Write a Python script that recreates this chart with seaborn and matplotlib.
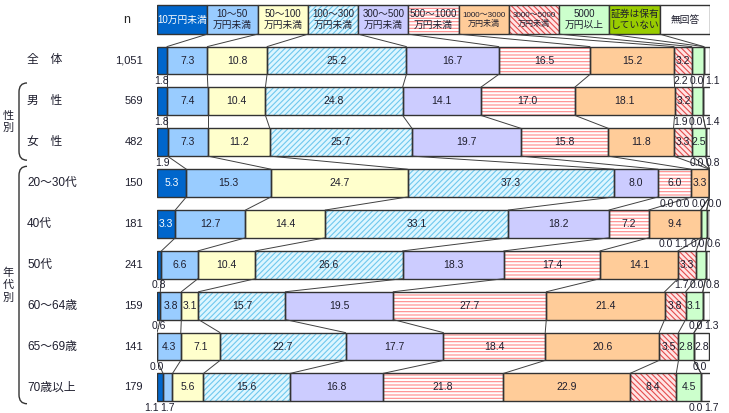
import pandas as pd
import seaborn as sns
import matplotlib.pyplot as plt
from matplotlib import transforms
from matplotlib.path import Path
from matplotlib.patches import PathPatch

# ---- data -------------------------------------------------------------
ROWS = ['全　体', '男　性', '女　性', '20～30代', '40代', '50代',
        '60～64歳', '65～69歳', '70歳以上']
N_VALUES = ['1,051', '569', '482', '150', '181', '241', '159', '141', '179']

CATEGORIES = ['10万円未満', '10～50\n万円未満', '50～100\n万円未満',
              '100～300\n万円未満', '300～500\n万円未満', '500～1000\n万円未満',
              '1000～3000\n万円未満', '3000～5000\n万円未満', '5000\n万円以上',
              '証券は保有\nしていない', '無回答']

ZENTAI = [1.8, 7.3, 10.8, 25.2, 16.7, 16.5, 15.2, 3.2, 2.2, 0.0, 1.1]
MALE = [1.8, 7.4, 10.4, 24.8, 14.1, 17.0, 18.1, 3.2, 1.9, 0.0, 1.4]
FEMALE = [1.9, 7.3, 11.2, 25.7, 19.7, 15.8, 11.8, 3.3, 2.5, 0.0, 0.8]
AGE_20_30 = [5.3, 15.3, 24.7, 37.3, 8.0, 6.0, 3.3, 0.0, 0.0, 0.0, 0.0]
AGE_40 = [3.3, 12.7, 14.4, 33.1, 18.2, 7.2, 9.4, 0.0, 1.1, 0.0, 0.6]
AGE_50 = [0.8, 6.6, 10.4, 26.6, 18.3, 17.4, 14.1, 3.3, 1.7, 0.0, 0.8]
AGE_60_64 = [0.6, 3.8, 3.1, 15.7, 19.5, 27.7, 21.4, 3.8, 3.1, 0.0, 1.3]
AGE_65_69 = [0.0, 4.3, 7.1, 22.7, 17.7, 18.4, 20.6, 3.5, 2.8, 0.0, 2.8]
AGE_70 = [1.1, 1.7, 5.6, 15.6, 16.8, 21.8, 22.9, 8.4, 4.5, 0.0, 1.7]

VALUES = [ZENTAI, MALE, FEMALE, AGE_20_30, AGE_40, AGE_50,
          AGE_60_64, AGE_65_69, AGE_70]

# ---- style ------------------------------------------------------------
FACE = ['#0066CC', '#99CCFF', '#FFFFCC', '#DDF6FF', '#CCCCFF', '#FFFFFF',
        '#FFCC99', '#FFE4E4', '#CCFFCC', '#99CC00', '#FFFFFF']
HATCH = [None, None, None, '//////', None, '-----', None, '\\\\\\\\\\\\',
         None, None, None]
HATCH_COLOR = [None, None, None, '#6FC8EE', None, '#FF8A8A', None, '#E44C4C',
               None, None, None]
EDGE = '#333333'
TEXT = '#1E1E2E'
BAR_H = 0.68
LEG_H = 0.71
SMALL = 2.5

W, H = 729, 413
Y0_PX, ROW_PX = 60.5, 40.86
X0_PX, X1_PX = 157, 710

sns.set_theme(style='white')
plt.rcParams['font.family'] = ['Liberation Sans', 'Noto Sans CJK JP', 'DejaVu Sans']
plt.rcParams['hatch.linewidth'] = 0.8

fig = plt.figure(figsize=(W / 100, H / 100), dpi=100)
ax = fig.add_axes([X0_PX / W, 0, (X1_PX - X0_PX) / W, 1])

df = pd.DataFrame(VALUES, columns=CATEGORIES)
df['row'] = ROWS
cum = df[CATEGORIES].cumsum(axis=1)
start = cum - df[CATEGORIES]

# stacked bars: draw cumulative totals from the last category to the first
for k in reversed(range(len(CATEGORIES))):
    part = pd.DataFrame({'row': ROWS, 'cum': cum.iloc[:, k].values})
    sns.barplot(data=part, x='cum', y='row', orient='h', order=ROWS,
                color=FACE[k], saturation=1, width=BAR_H, errorbar=None,
                hatch=HATCH[k], edgecolor=HATCH_COLOR[k] or FACE[k],
                linewidth=0, ax=ax)

ypos = list(range(len(ROWS)))
for k in range(len(CATEGORIES)):
    ax.barh(ypos, df[CATEGORIES[k]], left=start.iloc[:, k], height=BAR_H,
            fill=False, edgecolor=EDGE, linewidth=1.0)

# legend row above the bars
leg_w = 100 / len(CATEGORIES)
for k, cat in enumerate(CATEGORIES):
    ax.barh(-1, leg_w, left=k * leg_w, height=LEG_H, color=FACE[k],
            hatch=HATCH[k], edgecolor=HATCH_COLOR[k] or FACE[k], linewidth=0)
    ax.barh(-1, leg_w, left=k * leg_w, height=LEG_H, fill=False,
            edgecolor=EDGE, linewidth=1.0)
    size = 5.8 if cat.startswith(('1000', '3000')) else 7
    ax.text((k + 0.5) * leg_w, -1, cat, ha='center', va='center',
            fontsize=size, linespacing=1.1,
            color='white' if k == 0 else TEXT)

# connector lines
for k in range(len(CATEGORIES) - 1):
    ax.plot([(k + 1) * leg_w, cum.iloc[0, k]], [-1 + LEG_H / 2, -BAR_H / 2],
            color='#404040', lw=0.7)
    for i in range(len(ROWS) - 1):
        ax.plot([cum.iloc[i, k], cum.iloc[i + 1, k]],
                [i + BAR_H / 2, i + 1 - BAR_H / 2], color='#404040', lw=0.7)

# value labels
GAP = 2.9
for i in range(len(ROWS)):
    small = []
    for k in range(len(CATEGORIES)):
        v = df.iloc[i, k]
        mid = start.iloc[i, k] + v / 2
        if v >= SMALL:
            ax.text(mid, i, f'{v:.1f}', ha='center', va='center', fontsize=7.5,
                    color='white' if k == 0 else TEXT)
        else:
            small.append((mid + (1.0 if mid > 50 else 0.0), v))
    small.sort()
    pos = [p for p, _ in small]
    for j in range(len(pos) - 2, -1, -1):
        pos[j] = min(pos[j], pos[j + 1] - GAP)
    for p, (_, v) in zip(pos, small):
        ax.text(p, i + 0.5, f'{v:.1f}', ha='center', va='center',
                fontsize=7.5, color=TEXT, clip_on=False)

ax.set_xlim(0, 100)
ax.set_ylim((H - Y0_PX) / ROW_PX, -Y0_PX / ROW_PX)
ax.axis('off')

# left side texts
blend = transforms.blended_transform_factory(fig.transFigure, ax.transData)
ax.text(127 / W, -1, 'n', transform=blend, ha='center', va='center', fontsize=9)
for i, (name, n) in enumerate(zip(ROWS, N_VALUES)):
    ax.text(27 / W, i, name, transform=blend, ha='left', va='center',
            fontsize=8.5, color=TEXT)
    ax.text(143 / W, i, n, transform=blend, ha='right', va='center',
            fontsize=8, color=TEXT)

ax.text(8 / W, 1.5, '性\n別', transform=blend, ha='center', va='center',
        fontsize=8, linespacing=1.3, color=TEXT)
ax.text(8 / W, 5.5, '年\n代\n別', transform=blend, ha='center', va='center',
        fontsize=8, linespacing=1.3, color=TEXT)


def bracket(top, bottom):
    xv, xe, r = 19 / W, 27 / W, 0.22
    verts = [(xe, top), (xv, top), (xv, top + r), (xv, bottom - r),
             (xv, bottom), (xe, bottom)]
    codes = [Path.MOVETO, Path.CURVE3, Path.CURVE3, Path.LINETO,
             Path.CURVE3, Path.CURVE3]
    ax.add_patch(PathPatch(Path(verts, codes), fill=False, lw=1.0,
                           edgecolor=EDGE, transform=blend, clip_on=False))


bracket(1 - 0.45, 2 + 0.44)
bracket(3 - 0.41, 8 + 0.4)

fig.savefig('out.png', dpi=100, facecolor='white')
